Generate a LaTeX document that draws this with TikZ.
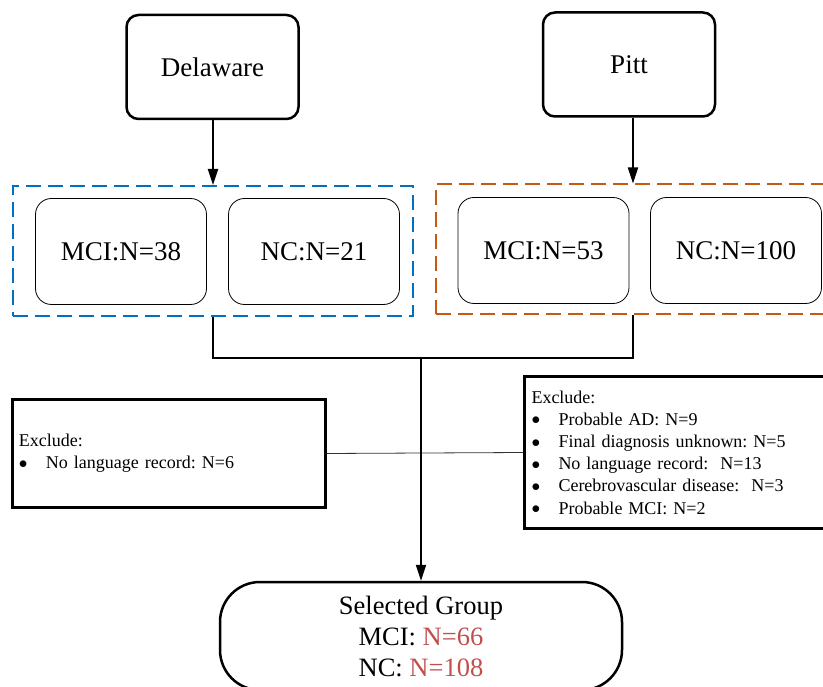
\documentclass[tikz,border=0pt]{standalone}
\usepackage{fontspec}
\setmainfont{Liberation Serif}
\usetikzlibrary{arrows.meta}
\definecolor{delblue}{HTML}{0070C0}
\definecolor{pittbrown}{HTML}{C55A11}
\definecolor{countred}{HTML}{C0504D}
\frenchspacing
\newcommand{\exitem}{\\\makebox[27pt][l]{\raisebox{0.5pt}{$\bullet$}}}
\tikzset{
	site/.style={draw,line width=2.5pt,rounded corners=12pt,minimum width=172pt,minimum height=104pt,font=\fontsize{27}{32}\selectfont},
	cohort/.style={draw,line width=0.8pt,rounded corners=16pt,minimum width=171pt,minimum height=106pt,font=\fontsize{27}{32}\selectfont},
	group/.style={draw,line width=2pt,dash pattern=on 15pt off 7pt,minimum height=130pt},
	exclbox/.style={draw,line width=3pt,align=left,inner xsep=7pt,font=\fontsize{18}{22.2}\selectfont},
	arr/.style={-{Triangle[length=16pt,width=10pt]},line width=1.8pt},
}
\begin{document}
\begin{tikzpicture}[x=1pt,y=-1pt]
				\useasboundingbox (0,0) rectangle (823,687);
				%\draw [help lines,step=50] (0,0) grid (823,687);
				\node[site] (del) at (212.5,67) {Delaware};
				\node[site] (pitt) at (629,64.5) {Pitt};
				\node[group,delblue,minimum width=400pt] (delgroup) at (213,251) {};
				\node[group,pittbrown,minimum width=394pt] (pittgroup) at (633,249.5) {};
				\node[cohort] (delmci) at (121,251.5) {MCI:N=38};
				\node[cohort] (delnc) at (314,251.5) {NC:N=21};
				\node[cohort] (pittmci) at (543.5,250.5) {MCI:N=53};
				\node[cohort] (pittnc) at (736,250.5) {NC:N=100};
				\node[exclbox,text width=299pt,minimum height=107pt] (excl) at (168.5,453.5) {Exclude:\exitem No language record: N=6};
				\node[exclbox,text width=303pt,minimum height=151pt] (excr) at (683,452.5) {Exclude:\exitem Probable AD: N=9\exitem Final diagnosis unknown: N=5\exitem No language record:\ \ N=13\exitem Cerebrovascular disease:\ \ N=3\exitem Probable MCI: N=2};
				\node[draw,line width=2.5pt,rounded corners=40pt,minimum width=402pt,minimum height=108pt,align=center,font=\fontsize{26.5}{31}\selectfont] (selected) at (421,636) {Selected Group\\MCI: \textcolor{countred}{N=66}\\NC: \textcolor{countred}{N=108}};
				\coordinate (join) at (421,358);
				\draw[arr] (del.south -| delgroup.north) -- (delgroup.north);
				\draw[arr] (pitt.south -| pittgroup.north) -- (pittgroup.north);
				\draw[line width=1.8pt] (delgroup.south) |- (join) -| (pittgroup.south);
				\draw[line width=0.8pt,black!80] (excl.east) -- (excr.west);
				\draw[arr] (join) -- (selected.north);
				\end{tikzpicture}
\end{document}
